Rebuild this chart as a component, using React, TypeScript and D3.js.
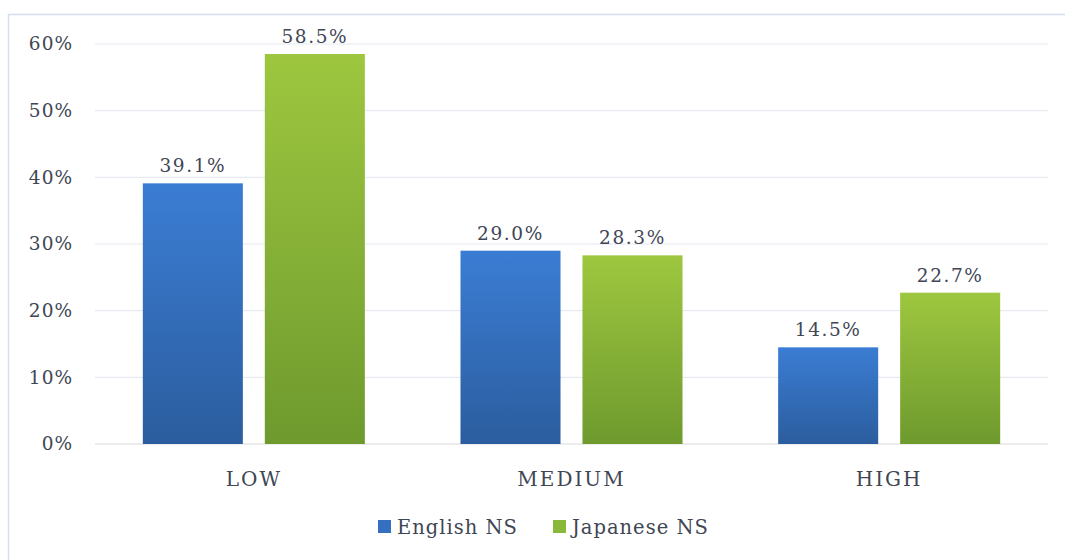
import React from "react";
import * as d3 from "d3";

const categories = ["LOW", "MEDIUM", "HIGH"];
const seriesNames = ["English NS", "Japanese NS"];
const englishNS = [39.1, 29.0, 14.5];
const japaneseNS = [58.5, 28.3, 22.7];
const yTicks = [0, 10, 20, 30, 40, 50, 60];

const W = 1065, H = 560;
const M = { left: 95, right: 17, top: 44, bottom: 116 };
const FONT = "'DejaVu Serif', serif";
const TXT = "#404654";
const FS = 18.5;

export default function App() {
  const x = d3.scaleBand<string>().domain(categories).range([M.left, W - M.right]).paddingInner(0).paddingOuter(0);
  const inner = d3.scaleBand<string>().domain(seriesNames).range([0, x.bandwidth()]).paddingInner(0.18).paddingOuter(0.392);
  const y = d3.scaleLinear().domain([0, 60]).range([H - M.bottom, M.top]);
  const values = [englishNS, japaneseNS];
  const grads = [["#3b7dd4", "#2b5d9e"], ["#9ec73f", "#6e9a2e"]];
  const legendColors = ["#3570c0", "#8ab83a"];

  return (
    <svg width={W} height={H} style={{ position: "absolute", left: 0, top: 0, background: "#fff" }}>
      <defs>
        {grads.map((g, i) => (
          <linearGradient key={i} id={`g${i}`} x1="0" y1="0" x2="0" y2="1">
            <stop offset="0" stopColor={g[0]} />
            <stop offset="1" stopColor={g[1]} />
          </linearGradient>
        ))}
      </defs>
      <rect x={8.5} y={14.5} width={W + 10} height={H} fill="none" stroke="#d5deed" strokeWidth={1.5} />
      {yTicks.map((t) => (
        <g key={t}>
          <line x1={M.left} x2={W - M.right} y1={y(t)} y2={y(t)} stroke={t === 0 ? "#d9d9d9" : "#e6e9f0"} strokeWidth={1.2} />
          <text x={73} y={y(t)} dy="0.35em" textAnchor="end" fontFamily={FONT} fontSize={FS} fill={TXT} letterSpacing={1}>{t}%</text>
        </g>
      ))}
      {categories.map((c, ci) => (
        <g key={c}>
          {seriesNames.map((s, si) => {
            const v = values[si][ci];
            const bx = (x(c) as number) + (inner(s) as number);
            return (
              <g key={s}>
                <rect x={bx} y={y(v)} width={inner.bandwidth()} height={y(0) - y(v)} fill={`url(#g${si})`} />
                <text x={bx + inner.bandwidth() / 2} y={y(v) - 11} textAnchor="middle" fontFamily={FONT} fontSize={FS} fill={TXT} letterSpacing={1.6}>{v.toFixed(1)}%</text>
              </g>
            );
          })}
          <text x={(x(c) as number) + x.bandwidth() / 2} y={486} textAnchor="middle" fontFamily={FONT} fontSize={20} fill={TXT} letterSpacing={2}>{c}</text>
        </g>
      ))}
      {seriesNames.map((s, si) => {
        const lx = [378, 553][si];
        return (
          <g key={s}>
            <rect x={lx} y={520} width={13} height={13} fill={legendColors[si]} />
            <text x={lx + 19} y={534} fontFamily={FONT} fontSize={19.5} fill={TXT} letterSpacing={1}>{s}</text>
          </g>
        );
      })}
    </svg>
  );
}
